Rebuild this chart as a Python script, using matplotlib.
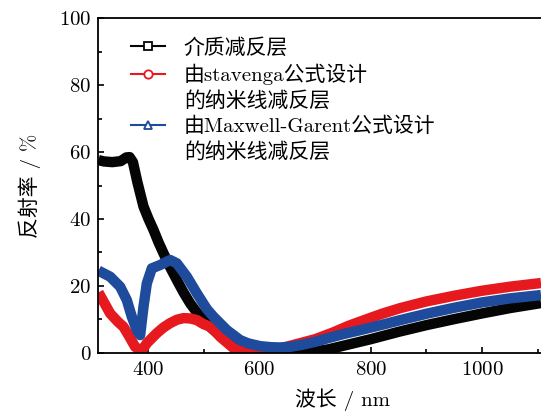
import matplotlib
matplotlib.use("Agg")
import matplotlib.pyplot as plt
import matplotlib.ticker as mtick
from matplotlib.lines import Line2D

plt.rcParams['font.family'] = ['cmr10', 'Noto Sans CJK SC']
plt.rcParams['axes.formatter.use_mathtext'] = True
plt.rcParams['mathtext.fontset'] = 'cm'

# reflectance spectra (wavelength in nm, reflectance in %)
wl_black = [310, 320, 335, 350, 360, 366, 372, 380, 391, 400, 409, 418, 427, 439, 451,
            463, 475, 487, 499, 512, 525, 550, 575, 600, 625, 650, 675, 700, 725, 750,
            800, 850, 900, 950, 1000, 1050, 1106]
r_black = [57.6, 57.2, 57.0, 57.3, 58.4, 58.5, 57.0, 51.0, 43.7, 40.0, 36.7, 33.0, 29.7,
           25.5, 21.7, 18.0, 14.7, 12.0, 9.7, 7.5, 5.6, 3.0, 1.4, 0.6, 0.2, 0.1, 0.1, 0.3,
           1.0, 2.0, 4.0, 6.2, 8.2, 10.0, 11.7, 13.3, 14.8]

wl_red = [310, 320, 331, 345, 355, 364, 376, 385, 392, 397, 406, 415, 427, 439, 451, 463,
          475, 487, 499, 511, 520, 529, 541, 553, 565, 580, 600, 625, 650, 675, 700, 732,
          760, 793, 820, 853, 900, 950, 1000, 1050, 1106]
r_red = [18.0, 15.0, 11.7, 9.2, 7.7, 5.2, 1.7, 0.7, 1.5, 2.8, 4.3, 5.8, 7.5, 8.8, 9.8,
         10.3, 10.2, 9.7, 8.5, 7.7, 6.3, 4.7, 3.0, 1.3, 0.5, 0.2, 0.2, 0.8, 1.8, 2.9, 4.0,
         6.0, 8.0, 10.0, 11.6, 13.3, 15.3, 17.0, 18.5, 19.7, 20.8]

wl_blue = [310, 331, 349, 361, 370, 379, 385, 391, 397, 406, 421, 439, 451, 469, 487, 505,
           517, 541, 565, 580, 601, 620, 637, 655, 673, 700, 721, 750, 781, 820, 853, 900,
           950, 1000, 1050, 1106]
r_blue = [24.5, 22.7, 19.7, 15.7, 10.7, 6.7, 5.2, 13.7, 20.7, 25.2, 26.2, 27.7, 26.7, 22.7,
          17.7, 13.0, 10.7, 6.7, 3.7, 2.7, 1.9, 1.6, 1.5, 1.7, 2.2, 3.2, 4.2, 5.5, 6.7, 8.3,
          9.7, 11.6, 13.4, 15.0, 16.2, 17.2]

labels = ['介质减反层', '由stavenga公式设计', '的纳米线减反层',
          '由Maxwell-Garent公式设计', '的纳米线减反层']

RED = '#e6191f'
BLUE = '#1e4b9b'
BLACK = '#050505'

fig = plt.figure(figsize=(5.41, 4.12), dpi=100)
ax = fig.add_axes([0.182, 0.1444, 0.818, 0.8107])

for wl, r, c in [(wl_black, r_black, BLACK), (wl_red, r_red, RED), (wl_blue, r_blue, BLUE)]:
    ax.plot(wl, r, color=c, lw=7.5, solid_joinstyle='round', solid_capstyle='butt')

ax.set_xlim(310, 1106)
ax.set_ylim(0, 100)
ax.xaxis.set_major_locator(mtick.FixedLocator([400, 600, 800, 1000]))
ax.xaxis.set_minor_locator(mtick.FixedLocator([500, 700, 900, 1100]))
ax.yaxis.set_major_locator(mtick.MultipleLocator(20))
ax.yaxis.set_minor_locator(mtick.MultipleLocator(10))
ax.tick_params(which='both', direction='in', labelsize=15, width=1.2)
ax.tick_params(which='major', length=4.5)
ax.tick_params(which='minor', length=3)
ax.tick_params(axis='x', pad=6)
ax.tick_params(axis='y', pad=5)
ax.spines['right'].set_visible(False)
for s in ('left', 'bottom', 'top'):
    ax.spines[s].set_linewidth(1.3)

ax.set_xlabel('波长 / nm', fontsize=15)
ax.xaxis.set_label_coords(0.552, -0.107)
ax.set_ylabel('反射率 / %', fontsize=15, labelpad=13)

h_black = Line2D([], [], color=BLACK, lw=1.5, marker='s', ms=6, mfc='white', mew=1.3)
h_red = Line2D([], [], color=RED, lw=1.5, marker='o', ms=6, mfc='white', mew=1.3)
h_blue = Line2D([], [], color=BLUE, lw=1.5, marker='^', ms=6, mfc='white', mew=1.3)
blank = Line2D([], [], linestyle='none')
ax.legend([h_black, h_red, blank, h_blue, blank], labels, loc='upper left',
          bbox_to_anchor=(0.04, 0.985), frameon=False, fontsize=15,
          handlelength=1.65, handletextpad=0.9, labelspacing=0.28, borderaxespad=0.3)

fig.savefig('out.png', dpi=100)
